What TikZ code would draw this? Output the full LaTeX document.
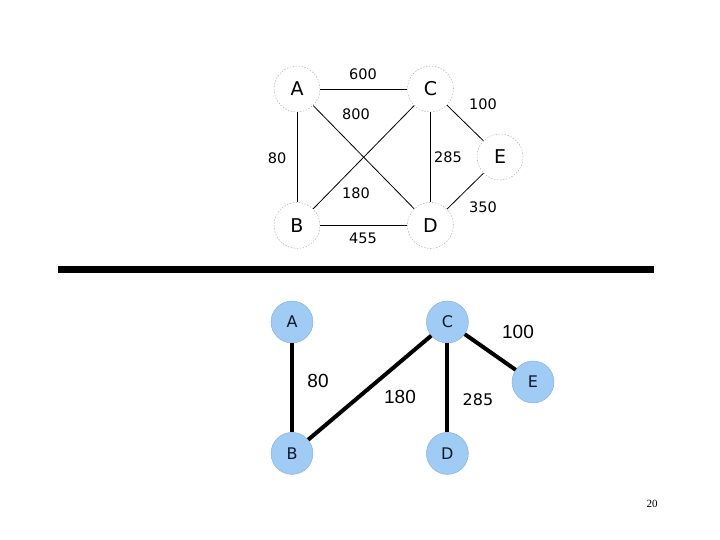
\documentclass[tikz,border=0pt]{standalone}
\usepackage{fontspec}
\setmainfont{Liberation Sans}
\newfontfamily\dejavu{DejaVu Sans}
\newfontfamily\serifnum{Liberation Serif}
\usetikzlibrary{positioning}
\definecolor{treefill}{HTML}{9FCBF4}
\definecolor{treeedge}{HTML}{7DAEE0}
\definecolor{treeink}{HTML}{101828}

\begin{document}
\begin{tikzpicture}[x=1pt,y=1pt]
            \tikzstyle{city}    = [circle, minimum size=46pt, inner sep=0pt, draw=black!35, dash pattern=on 1.5pt off 1.5pt, font=\dejavu\fontsize{19}{19}\selectfont]
            \tikzstyle{treenode}= [circle, minimum size=42pt, inner sep=0pt, fill=treefill, draw=treeedge, text=treeink, font=\dejavu\fontsize{16}{16}\selectfont]
            \tikzstyle{cost}    = [font=\dejavu\fontsize{14.5}{14.5}\selectfont]
            \tikzstyle{treecost}= [font=\fontsize{19}{19}\selectfont]
            \tikzstyle{road}    = [draw=black, line width=0.8pt]
            \tikzstyle{treeroad}= [draw=black, line width=4pt]

            \useasboundingbox (0,0) rectangle (720,540);

            % Full graph
            \node[city] (fullA) at (297,451) {A};
            \node[city, right=87 of fullA] (fullC) {C};
            \node[city, below=90 of fullA] (fullB) {B};
            \node[city, right=87 of fullB] (fullD) {D};
            \node[city] (fullE) at (500,383) {E};

            \draw[road] (fullA) -- (fullC);
            \draw[road] (fullA) -- (fullB);
            \draw[road] (fullA) -- (fullD);
            \draw[road] (fullB) -- (fullC);
            \draw[road] (fullB) -- (fullD);
            \draw[road] (fullC) -- (fullD);
            \draw[road] (fullC) -- (fullE);
            \draw[road] (fullD) -- (fullE);

            \node[cost] (w600) at (363,466) {600};
            \node[cost] (w800) at (356,426) {800};
            \node[cost] (w100) at (483,436) {100};
            \node[cost] (w80) at (277,382) {80};
            \node[cost] (w285) at (448,383) {285};
            \node[cost] (w180) at (356,347) {180};
            \node[cost] (w350) at (483,333) {350};
            \node[cost] (w455) at (363,302) {455};

            % Divider
            \coordinate (ruleL) at (58,270);
            \coordinate (ruleR) at (654,270);
            \draw[line width=7pt] (ruleL) -- (ruleR);

            % Spanning tree
            \node[treenode] (treeA) at (292,218) {A};
            \node[treenode, right=113 of treeA] (treeC) {C};
            \node[treenode, below=89 of treeA] (treeB) {B};
            \node[treenode, right=113 of treeB] (treeD) {D};
            \node[treenode] (treeE) at (533,158) {E};

            \draw[treeroad] (treeA) -- (treeB);
            \draw[treeroad] (treeB) -- (treeC);
            \draw[treeroad] (treeC) -- (treeD);
            \draw[treeroad] (treeC) -- (treeE);

            \node[treecost] (t80) at (318,159) {80};
            \node[treecost] (t180) at (400,143) {180};
            \node[treecost, font=\dejavu\fontsize{16}{16}\selectfont] (t285) at (478,140) {285};
            \node[treecost] (t100) at (518,208) {100};

            \node[font=\serifnum\fontsize{11}{11}\selectfont] (page) at (652,36) {20};
        \end{tikzpicture}
\end{document}
